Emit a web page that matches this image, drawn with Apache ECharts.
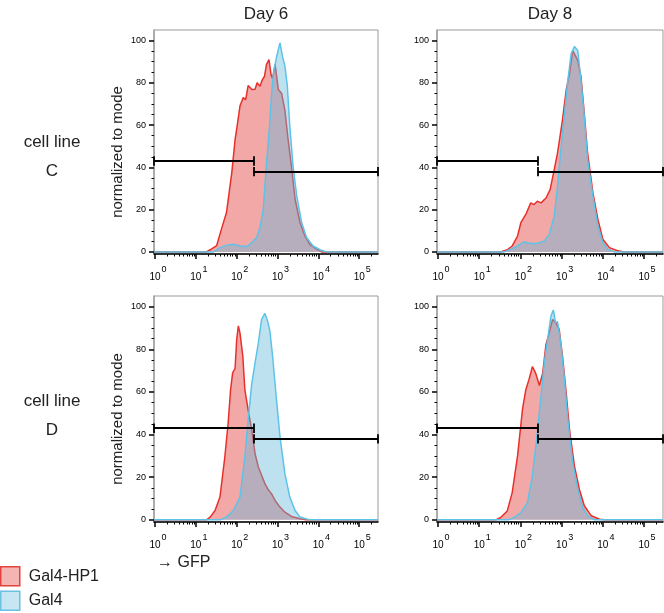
<!DOCTYPE html>
<html><head><meta charset="utf-8">
<script src="https://cdn.jsdelivr.net/npm/echarts@6/dist/echarts.min.js"></script>
<style>html,body{margin:0;padding:0;background:#fff}#c{width:664px;height:613px}</style>
</head><body><div id="c"></div><script>
// ---- data (x in log10(GFP) units, y in % of mode) ----
const xTickExponents = [0, 1, 2, 3, 4, 5];
const minorMultipliers = [2, 3, 4, 5, 6, 7, 8, 9];
const yTickValues = [0, 20, 40, 60, 80, 100];
const yMinorValues = [5, 10, 15, 25, 30, 35, 45, 50, 55, 65, 70, 75, 85, 90, 95];
const dayLabels = ['Day 6', 'Day 8'];
const cellLines = ['C', 'D'];
const seriesNames = ['Gal4-HP1', 'Gal4'];
const gateSplit = 2.42;
const gateLeftY = 43;
const gateRightY = 38;

const c6HP1 = [[-0.025,0],[1.26,0],[1.35,1],[1.51,3],[1.63,11],[1.75,18.6],[1.88,37.5],[1.96,53],[2.01,59.5],[2.08,69],[2.16,73],[2.22,72],[2.28,78.7],[2.37,76.8],[2.45,77],[2.50,80],[2.57,78.4],[2.63,81.6],[2.68,83],[2.73,88.7],[2.79,91],[2.84,84],[2.88,82],[2.94,88.7],[3.02,76.8],[3.10,75],[3.18,67],[3.26,53],[3.34,40.6],[3.43,24.9],[3.55,13.9],[3.67,7.6],[3.79,3.6],[3.96,1.3],[4.08,0],[5.46,0]];
const c6Gal4 = [[-0.025,0],[1.43,0],[1.59,2],[1.75,3.1],[1.92,3.6],[2.08,2.8],[2.24,2.5],[2.37,4.4],[2.49,6.8],[2.57,11.5],[2.65,20],[2.73,42],[2.81,61],[2.85,73.7],[2.90,84.7],[2.98,92.6],[3.06,98.9],[3.12,92.6],[3.18,88],[3.24,78.4],[3.30,59.5],[3.38,40.6],[3.47,26.5],[3.59,13.9],[3.71,6.8],[3.87,2.8],[4.04,1],[4.2,0],[5.46,0]];
const c8HP1 = [[-0.025,0],[1.52,0],[1.68,1],[1.80,2.8],[1.93,7.5],[2.01,13.8],[2.13,17.7],[2.25,23.2],[2.33,22.4],[2.41,24],[2.50,23.2],[2.62,25.5],[2.72,29.5],[2.82,38.9],[2.90,46.7],[3.02,62.4],[3.11,76.5],[3.19,84.3],[3.27,95.3],[3.31,96.1],[3.39,90.6],[3.47,82.8],[3.55,65.5],[3.63,46.7],[3.76,27.9],[3.88,15.4],[4.00,6],[4.16,2],[4.37,0.5],[4.5,0],[5.46,0]];
const c8Gal4 = [[-0.025,0],[1.6,0],[1.76,1.2],[1.93,2.8],[2.09,4.7],[2.25,4],[2.41,4],[2.58,5.2],[2.70,8.3],[2.82,17],[2.90,31],[2.98,48.3],[3.07,65.5],[3.15,81.2],[3.23,93.7],[3.31,97.2],[3.39,95.3],[3.47,81.2],[3.55,64],[3.63,43.6],[3.76,26.3],[3.88,12.2],[4.00,4.4],[4.12,1.2],[4.28,0],[5.46,0]];
const d6HP1 = [[-0.025,0],[1.26,0],[1.35,1.3],[1.47,4.4],[1.59,10.7],[1.71,29.6],[1.79,45.3],[1.85,61],[1.90,68.9],[1.96,71],[2.00,84.6],[2.04,91],[2.08,87.7],[2.15,76.7],[2.20,61],[2.28,51.6],[2.37,42],[2.45,31],[2.53,24.8],[2.61,20.9],[2.69,17],[2.77,14.2],[2.85,12.3],[2.94,9.1],[3.06,6],[3.18,3.6],[3.34,1.6],[3.55,0.5],[3.7,0],[5.46,0]];
const d6Gal4 = [[-0.025,0],[1.6,0],[1.75,1.3],[1.92,4.4],[2.08,10.7],[2.20,29.6],[2.28,46.9],[2.37,64],[2.45,73.6],[2.53,83],[2.61,94],[2.69,96.8],[2.76,93],[2.81,89],[2.88,76.6],[2.96,59.4],[3.06,39],[3.18,21.7],[3.30,10.7],[3.43,4.4],[3.55,1.3],[3.79,0],[5.46,0]];
const d8HP1 = [[-0.025,0],[1.4,0],[1.52,1.1],[1.68,4.2],[1.80,12.8],[1.93,30],[2.05,51.9],[2.13,61],[2.21,66],[2.29,71.9],[2.37,68.8],[2.46,63],[2.54,68.8],[2.62,82.3],[2.70,87.8],[2.78,94],[2.86,92.5],[2.94,89.4],[3.02,76.9],[3.11,59.7],[3.19,42.5],[3.31,25.3],[3.43,14.4],[3.55,6.6],[3.72,1.9],[3.92,0.3],[4.05,0],[5.46,0]];
const d8Gal4 = [[-0.025,0],[1.7,0],[1.85,1.1],[2.01,3.4],[2.17,8.1],[2.29,20.6],[2.41,40.9],[2.50,58.1],[2.58,73.8],[2.66,84.8],[2.74,95.6],[2.80,98.4],[2.85,92.5],[2.90,93],[2.98,82.8],[3.07,65.6],[3.15,46.9],[3.27,26.6],[3.39,14.4],[3.51,5.8],[3.63,1.9],[3.80,0],[5.46,0]];

// ---- layout / style ----
const FONT = '"Liberation Sans", Arial, Helvetica, sans-serif';
const X_MIN = -0.025, X_MAX = 5.46, Y_MIN = -1, Y_MAX = 105;
const RED_LINE = '#e8302a', RED_FILL = 'rgb(243,168,168)';
const BLUE_LINE = '#5cc3e8', BLUE_FILL = 'rgba(100,183,219,0.42)';
const grids = [
  {left: 154, top: 30, width: 224, height: 224},
  {left: 437, top: 30, width: 226, height: 224},
  {left: 154, top: 296, width: 224, height: 226},
  {left: 437, top: 296, width: 226, height: 226}
];
const panelData = [[c6HP1, c6Gal4], [c8HP1, c8Gal4], [d6HP1, d6Gal4], [d8HP1, d8Gal4]];

const xMinorTicks = [];
xTickExponents.forEach(k => minorMultipliers.forEach(m => {
  const v = k + Math.log10(m);
  if (v <= X_MAX) xMinorTicks.push(v);
}));

const gridOpt = [], xAxes = [], yAxes = [], series = [];
grids.forEach((g, i) => {
  gridOpt.push(Object.assign({show: true, borderColor: '#9a9a9a', borderWidth: 1, outerBoundsMode: 'none', containLabel: false}, g));
  xAxes.push({
    type: 'value', gridIndex: i, min: X_MIN, max: X_MAX, position: 'bottom',
    splitLine: {show: false},
    axisLine: {onZero: false, lineStyle: {color: '#000', width: 1.5}},
    axisTick: {customValues: xTickExponents, length: 5, lineStyle: {color: '#000', width: 1.5}},
    axisLabel: {
      customValues: xTickExponents, margin: 11,
      formatter: v => '{b|10}{s|' + Math.round(v) + '}',
      rich: {
        b: {fontSize: 10, fontFamily: FONT, color: '#000', verticalAlign: 'bottom', lineHeight: 17, padding: [0, 0, 0, 6]},
        s: {fontSize: 9, fontFamily: FONT, color: '#000', verticalAlign: 'top', lineHeight: 17, padding: [0, 0, 0, 1]}
      }
    }
  });
  xAxes.push({
    type: 'value', gridIndex: i, min: X_MIN, max: X_MAX, position: 'bottom',
    splitLine: {show: false}, axisLine: {show: false, onZero: false}, axisLabel: {show: false},
    axisTick: {customValues: xMinorTicks, length: 2.5, lineStyle: {color: '#000', width: 1}}
  });
  const leftCol = (i % 2 === 0);
  yAxes.push({
    type: 'value', gridIndex: i, min: Y_MIN, max: Y_MAX, position: 'left',
    splitLine: {show: false},
    axisLine: {onZero: false, lineStyle: {color: '#a0a0a0', width: 1.5}},
    axisTick: {customValues: yTickValues, length: 5, lineStyle: {color: '#000', width: 1.5}},
    axisLabel: {customValues: yTickValues, margin: 8, fontSize: 9, fontFamily: FONT, color: '#000'},
    name: leftCol ? 'normalized to mode' : '',
    nameLocation: 'middle', nameGap: 29,
    nameTextStyle: {fontSize: 15, fontFamily: FONT, color: '#222', padding: [0, 20, 0, 0]}
  });
  yAxes.push({
    type: 'value', gridIndex: i, min: Y_MIN, max: Y_MAX, position: 'left',
    splitLine: {show: false}, axisLine: {show: false, onZero: false}, axisLabel: {show: false},
    axisTick: {customValues: yMinorValues, length: 2.5, lineStyle: {color: '#000', width: 1}}
  });
  const [hp1, gal4] = panelData[i];
  series.push({
    name: seriesNames[0], type: 'line', xAxisIndex: 2 * i, yAxisIndex: 2 * i,
    data: hp1, symbol: 'none', smooth: false, z: 2, silent: true,
    lineStyle: {color: RED_LINE, width: 1.5},
    itemStyle: {color: RED_FILL},
    areaStyle: {color: RED_FILL, opacity: 1}
  });
  series.push({
    name: seriesNames[1], type: 'line', xAxisIndex: 2 * i, yAxisIndex: 2 * i,
    data: gal4, symbol: 'none', smooth: false, z: 3, silent: true,
    lineStyle: {color: BLUE_LINE, width: 1.5},
    itemStyle: {color: BLUE_FILL},
    areaStyle: {color: BLUE_FILL, opacity: 1}
  });
  const cap = 2.2;
  series.push({
    type: 'lines', coordinateSystem: 'cartesian2d', xAxisIndex: 2 * i, yAxisIndex: 2 * i,
    silent: true, z: 5, polyline: false,
    lineStyle: {color: '#000', width: 1.8, opacity: 1, curveness: 0},
    data: [
      {coords: [[X_MIN, gateLeftY], [gateSplit, gateLeftY]]},
      {coords: [[X_MIN, gateLeftY - cap], [X_MIN, gateLeftY + cap]]},
      {coords: [[gateSplit, gateLeftY - cap], [gateSplit, gateLeftY + cap]]},
      {coords: [[gateSplit, gateRightY], [X_MAX, gateRightY]]},
      {coords: [[gateSplit, gateRightY - cap], [gateSplit, gateRightY + cap]]},
      {coords: [[X_MAX, gateRightY - cap], [X_MAX, gateRightY + cap]]}
    ]
  });
});

function txt(x, y, text, size, align) {
  return {type: 'text', x: x, y: y, silent: true,
    style: {text: text, fontSize: size, fontFamily: FONT, fill: '#222',
      align: align || 'center', verticalAlign: 'middle', textAlign: align || 'center', textVerticalAlign: 'middle'}};
}
const graphics = [
  txt(266, 14, dayLabels[0], 17),
  txt(550, 14, dayLabels[1], 17),
  txt(52, 142, 'cell line', 17),
  txt(52, 171, cellLines[0], 17),
  txt(52, 401, 'cell line', 17),
  txt(52, 430, cellLines[1], 17),
  txt(157, 563, '\u2192 GFP', 16, 'left')
];

const chart = echarts.init(document.getElementById('c'), null, {renderer: 'canvas'});
chart.setOption({
  animation: false,
  backgroundColor: '#fff',
  textStyle: {fontFamily: FONT},
  grid: gridOpt, xAxis: xAxes, yAxis: yAxes, series: series,
  legend: {
    orient: 'vertical', left: 0, top: 566, padding: 0, itemWidth: 19, itemHeight: 19, itemGap: 4,
    selectedMode: false,
    textStyle: {fontSize: 16, fontFamily: FONT, color: '#222', padding: [0, 0, 0, 4]},
    data: [
      {name: seriesNames[0], icon: 'rect', itemStyle: {color: '#f4b4b2', borderColor: '#e2433a', borderWidth: 1.5}},
      {name: seriesNames[1], icon: 'rect', itemStyle: {color: '#c6e6f4', borderColor: '#6cc0e2', borderWidth: 1.5}}
    ]
  },
  graphic: {elements: graphics}
});
</script></body></html>
